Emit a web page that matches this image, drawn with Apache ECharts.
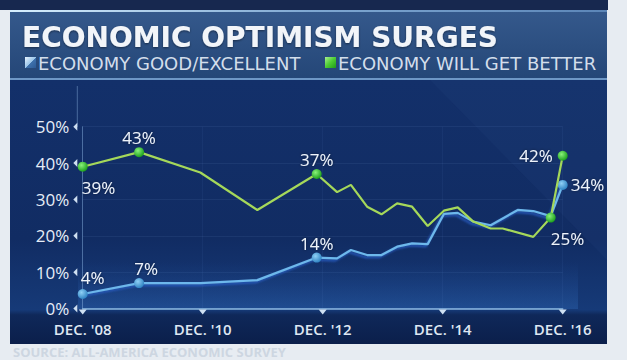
<!DOCTYPE html>
<html>
<head>
<meta charset="utf-8">
<script src="https://cdn.jsdelivr.net/npm/echarts@6/dist/echarts.min.js"></script>
<style>
html,body{margin:0;padding:0;background:#e7ecf2;}
#c{width:627px;height:360px;}
</style>
</head>
<body>
<div id="c"></div>
<script>
// Years since Dec 2008
const dates  = [0, 0.94, 1.96, 2.91, 3.9, 4.24, 4.47, 4.74, 4.98, 5.24, 5.49, 5.75, 6.02, 6.25, 6.51, 6.8, 7.0, 7.25, 7.51, 7.8, 8.0];
const better = [39, 43, 37.4, 27.1, 37, 32, 34, 28, 25.9, 28.9, 28, 22.7, 26.9, 27.8, 23.9, 22, 22, null, 19.7, 25, 42];
const good   = [4, 7, 7, 7.8, 14, 13.8, 16.1, 14.7, 14.7, 17, 17.9, 17.7, 26, 26.3, 23.9, 22.9, null, 27.1, 26.8, 25.4, 34];
const xTickValues = [0, 2, 4, 6, 8];
const xTickLabels = ["DEC. '08", "DEC. '10", "DEC. '12", "DEC. '14", "DEC. '16"];
const yTickLabels = ['0%', '10%', '20%', '30%', '40%', '50%'];
const titleText = 'ECONOMIC OPTIMISM SURGES';
const legendGood = 'ECONOMY GOOD/EXCELLENT';
const legendBetter = 'ECONOMY WILL GET BETTER';
const sourceText = 'SOURCE: ALL-AMERICA ECONOMIC SURVEY';

// label placement for marked points
const betterMarks = {
  0: {position: 'bottom', align: 'left', offset: [-1, 2]},
  1: {position: 'top', distance: 1},
  4: {position: 'top', distance: 1},
  19: {position: 'bottom', align: 'left', offset: [0, 2]},
  20: {position: 'left', distance: 5}
};
const goodMarks = {
  0: {position: 'top', align: 'left', distance: 3, offset: [-2, 0]},
  1: {position: 'top', distance: 1, offset: [7, 0]},
  4: {position: 'top', distance: 1},
  20: {position: 'right', distance: 3}
};

const greenBall = {type: 'radial', x: 0.38, y: 0.35, r: 0.7,
  colorStops: [{offset: 0, color: '#8af27a'}, {offset: 1, color: '#159a17'}]};
const blueBall = {type: 'radial', x: 0.38, y: 0.35, r: 0.7,
  colorStops: [{offset: 0, color: '#8fd0f5'}, {offset: 1, color: '#2a7fc0'}]};

const labelBase = {
  show: true, color: '#eef3fa', fontFamily: 'Open Sans', fontSize: 17,
  textShadowColor: 'rgba(0,0,0,0.5)', textShadowBlur: 3,
  formatter: p => Math.round(p.value[1]) + '%'
};

function build(values, marks, ball) {
  return dates.map((d, i) => {
    const m = marks[i];
    return {
      value: [d, values[i]],
      symbolSize: m ? 10 : 0,
      itemStyle: {color: ball},
      label: m ? Object.assign({}, labelBase, m) : {show: false}
    };
  });
}

const chart = echarts.init(document.getElementById('c'), null, {renderer: 'svg'});

const gTop = 126.7, gBottom = 51.5, gLeft = 82.7, gRight = 64.3;

const option = {
  backgroundColor: '#e7ecf2',
  animation: false,
  grid: {left: gLeft, right: gRight, top: gTop, bottom: gBottom, containLabel: false},
  xAxis: {
    type: 'value', min: 0, max: 8, interval: 2,
    axisLine: {show: true, lineStyle: {color: 'rgba(160,205,240,0.85)', width: 1.5}},
    axisTick: {show: false},
    splitLine: {show: true, lineStyle: {color: 'rgba(120,160,220,0.07)'}},
    axisLabel: {
      margin: 13, color: '#dfe7f2', fontFamily: 'Open Sans', fontWeight: 600, fontSize: 15,
      formatter: v => xTickLabels[xTickValues.indexOf(v)] || ''
    }
  },
  yAxis: {
    type: 'value', min: 0, max: 50, interval: 10, offset: 5.4,
    axisLine: {show: true, lineStyle: {color: 'rgba(140,180,225,0.45)', width: 1}},
    axisTick: {show: false},
    splitLine: {show: true, lineStyle: {color: 'rgba(120,160,220,0.10)'}},
    axisLabel: {
      margin: 8, color: '#e6edf7', fontFamily: 'Open Sans', fontSize: 17,
      formatter: v => yTickLabels[v / 10]
    }
  },
  series: [
    {
      name: legendGood, type: 'line', z: 3,
      connectNulls: true, symbol: 'circle',
      lineStyle: {color: '#6db8ec', width: 2.2, shadowColor: 'rgba(40,95,200,0.9)', shadowBlur: 2, shadowOffsetX: -2, shadowOffsetY: 2},
      data: build(good, goodMarks, blueBall)
    },
    {
      name: legendBetter, type: 'line', z: 4,
      connectNulls: true, symbol: 'circle',
      lineStyle: {color: '#a5d85a', width: 2.2},
      data: build(better, betterMarks, greenBall)
    }
  ],
  graphic: [
    // top dark band
    {type: 'rect', z: -10, shape: {x: 0, y: 0, width: 608, height: 10}, style: {fill: '#17284f'}},
    // header panel
    {type: 'rect', z: -10, shape: {x: 10, y: 10, width: 597, height: 70},
      style: {fill: {type: 'linear', x: 0, y: 0, x2: 0, y2: 1,
        colorStops: [{offset: 0, color: '#35598c'}, {offset: 1, color: '#244677'}]}}},
    {type: 'rect', z: -9, shape: {x: 10, y: 10, width: 597, height: 2},
      style: {fill: {type: 'linear', x: 0, y: 0, x2: 1, y2: 0,
        colorStops: [{offset: 0, color: '#d8f0ff'}, {offset: 0.5, color: '#7fa8d2'}, {offset: 1, color: '#5c86b8'}]}}},
    {type: 'rect', z: -9, shape: {x: 10, y: 78, width: 597, height: 2}, style: {fill: '#6e97c6'}},
    // chart panel
    {type: 'rect', z: -10, shape: {x: 10, y: 80, width: 597, height: 264},
      style: {fill: {type: 'linear', x: 0, y: 0, x2: 0, y2: 1,
        colorStops: [{offset: 0, color: '#13306a'}, {offset: 0.6, color: '#112c63'}, {offset: 0.87, color: '#163a78'}, {offset: 0.89, color: '#0f2859'}, {offset: 1, color: '#0b1f4b'}]}}},
    // diagonal light
    {type: 'polygon', z: -9, shape: {points: [[430, 80], [607, 80], [607, 260]]},
      style: {fill: 'rgba(80,120,190,0.06)'}},
    // glow above axis
    {type: 'rect', z: -8, shape: {x: 78, y: 262, width: 500, height: 47},
      style: {fill: {type: 'linear', x: 0, y: 0, x2: 0, y2: 1,
        colorStops: [{offset: 0, color: 'rgba(40,90,170,0)'}, {offset: 1, color: 'rgba(50,110,190,0.35)'}]}}},
    // y axis extension
    {type: 'line', z: 1, shape: {x1: 77.3, y1: 86, x2: 77.3, y2: 127}, style: {stroke: 'rgba(140,180,225,0.45)', lineWidth: 1}},
    // title
    {type: 'text', z: 5, x: 22, y: 37,
      style: {text: titleText, fontFamily: 'DejaVu Sans', fontWeight: 'bold', fontSize: 28,
        fill: '#f2f5f9', verticalAlign: 'middle',
        textShadowColor: 'rgba(0,0,0,0.45)', textShadowBlur: 2, textShadowOffsetY: 1}},
    // legend markers
    {type: 'rect', z: 5, shape: {x: 25, y: 57, width: 11, height: 11},
      style: {fill: {type: 'linear', x: 0, y: 0, x2: 1, y2: 1,
        colorStops: [{offset: 0, color: '#e8f4ff'}, {offset: 0.5, color: '#9cc6ea'}, {offset: 0.52, color: '#3f72ae'}, {offset: 1, color: '#2d5b96'}]}}},
    {type: 'rect', z: 5, shape: {x: 325, y: 57, width: 11, height: 11},
      style: {fill: {type: 'linear', x: 0, y: 0, x2: 1, y2: 1,
        colorStops: [{offset: 0, color: '#a8f090'}, {offset: 0.5, color: '#4ccc32'}, {offset: 1, color: '#1e9a1a'}]}}},
    {type: 'text', z: 5, x: 38, y: 63.5,
      style: {text: legendGood, fontFamily: 'DejaVu Sans', fontSize: 18, fill: '#d3deeb', verticalAlign: 'middle'}},
    {type: 'text', z: 5, x: 338, y: 63.5,
      style: {text: legendBetter, fontFamily: 'DejaVu Sans', fontSize: 18, fill: '#d3deeb', verticalAlign: 'middle'}},
    // source
    {type: 'text', z: 5, x: 13, y: 352,
      style: {text: sourceText, fontFamily: 'Open Sans', fontWeight: 700, fontSize: 13, fill: '#cdd6e1', verticalAlign: 'middle'}}
  ]
};
chart.setOption(option);

// triangle tick markers on axes
const tri = [];
xTickValues.forEach(v => {
  const p = chart.convertToPixel({gridIndex: 0}, [v, 0]);
  tri.push({type: 'polygon', z: 6, shape: {points: [[p[0] - 4, p[1] + 1], [p[0] + 4, p[1] + 1], [p[0], p[1] + 6]]}, style: {fill: '#cfe0f2'}});
});
[0, 10, 20, 30, 40, 50].forEach(v => {
  const p = chart.convertToPixel({gridIndex: 0}, [0, v]);
  const ax = p[0] - 5.4;
  tri.push({type: 'polygon', z: 6, shape: {points: [[ax, p[1] - 4], [ax, p[1] + 4], [ax - 4, p[1]]]}, style: {fill: '#cfe0f2'}});
});
chart.setOption({graphic: option.graphic.concat(tri)});
</script>
</body>
</html>
